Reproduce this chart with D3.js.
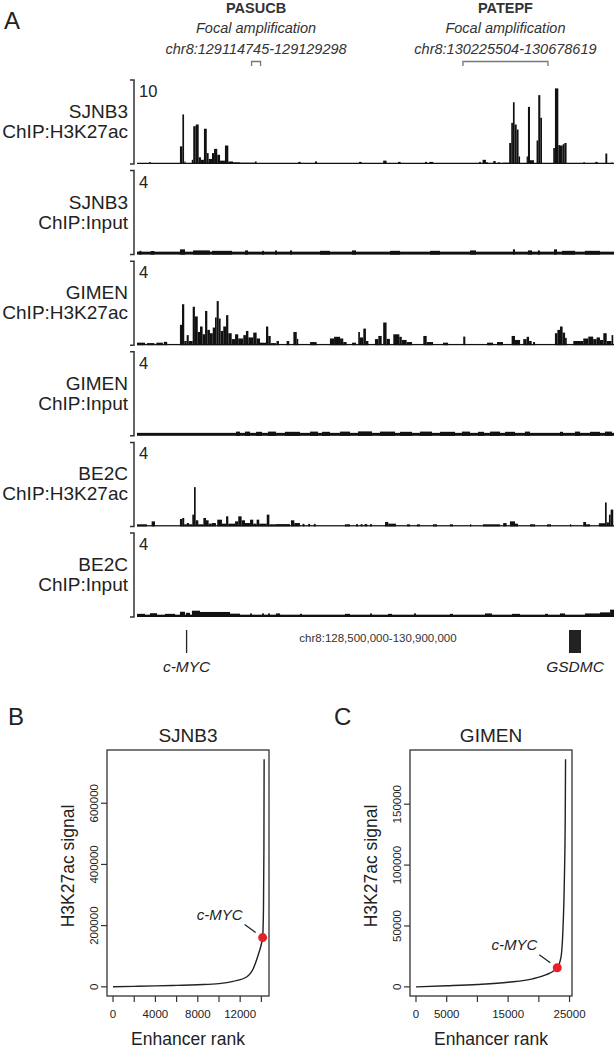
<!DOCTYPE html>
<html>
<head>
<meta charset="utf-8">
<script src="https://cdn.jsdelivr.net/npm/d3@7/dist/d3.min.js"></script>
<style>
body { margin: 0; background: #fff; }
svg text { font-family: "Liberation Sans", Arial, Helvetica, sans-serif; fill: #222; }
</style>
</head>
<body>
<svg id="fig" width="616" height="1050"></svg>
<script>
// ========== panel A data ==========
var region = [128.487, 131.031];   // Mb shown across the tracks
var regionLabel = "chr8:128,500,000-130,900,000";

var trackCell = ["SJNB3", "SJNB3", "GIMEN", "GIMEN", "BE2C", "BE2C"];
var trackChip = ["ChIP:H3K27ac", "ChIP:Input", "ChIP:H3K27ac", "ChIP:Input", "ChIP:H3K27ac", "ChIP:Input"];
var trackMax  = [10, 4, 4, 4, 4, 4];
var trackBg   = [0.15, 0.14, 0.06, 0.14, 0.06, 0.11];

// peaks: [start Mb, end Mb, signal]
var sjnb3K27 = [
  [128.551,128.562,0.2],[128.716,128.729,2.1],[128.729,128.738,5.9],[128.740,128.746,0.3],
  [128.779,128.787,0.5],[128.787,128.800,4.5],[128.800,128.816,4.7],[128.816,128.828,0.8],
  [128.828,128.844,0.5],[128.844,128.859,4.2],[128.859,128.869,1.3],[128.869,128.887,0.6],
  [128.887,128.898,1.3],[128.898,128.915,1.8],[128.915,128.930,1.1],[128.930,128.956,0.4],
  [128.956,128.974,2.2],[128.974,128.999,0.3],[128.999,129.036,0.2],[129.036,129.116,0.15],
  [129.116,129.125,0.3],[129.347,129.360,0.25],[129.436,129.447,0.3],[129.671,129.685,0.25],
  [129.800,129.818,0.4],[129.879,129.893,0.25],[130.023,130.034,0.25],[130.046,130.067,0.25],
  [130.312,130.321,0.25],[130.330,130.348,0.5],[130.348,130.359,0.2],[130.387,130.400,0.35],
  [130.412,130.423,0.2],[130.440,130.472,0.15],[130.472,130.483,2.5],[130.483,130.492,4.9],
  [130.492,130.501,7.35],[130.501,130.512,4.7],[130.512,130.522,4.1],[130.522,130.530,0.9],
  [130.565,130.572,0.9],[130.572,130.583,6.8],[130.583,130.604,0.45],[130.618,130.627,2.8],
  [130.627,130.638,8.2],[130.638,130.647,5.5],[130.707,130.716,1.9],[130.716,130.734,9.0],
  [130.734,130.743,2.25],[130.743,130.757,2.2],[130.757,130.766,2.35],[130.766,130.778,2.5],
  [130.867,130.876,0.2],[130.931,130.944,0.25],[130.985,130.995,1.25],[131.018,131.022,0.2]
];
var sjnb3Input = [
  [128.500,128.510,0.18],[128.560,128.580,0.17],[128.716,128.743,0.25],[128.786,128.876,0.2],
  [128.887,128.994,0.18],[129.063,129.079,0.2],[129.154,129.164,0.18],[129.223,129.233,0.2],
  [129.303,129.314,0.2],[129.463,129.516,0.18],[129.634,129.655,0.2],[129.836,129.890,0.18],
  [130.050,130.103,0.18],[130.263,130.295,0.2],[130.492,130.503,0.25],[130.572,130.594,0.2],
  [130.625,130.636,0.2],[130.711,130.727,0.25],[130.754,130.823,0.18],[130.876,130.956,0.18]
];
var gimenK27 = [
  [128.487,128.530,0.12],[128.540,128.580,0.1],[128.590,128.625,0.12],[128.630,128.648,0.16],
  [128.716,128.727,0.97],[128.727,128.739,1.95],[128.739,128.752,0.2],[128.752,128.763,0.48],
  [128.763,128.784,0.2],[128.784,128.796,1.83],[128.796,128.811,1.37],[128.811,128.823,0.63],
  [128.823,128.837,0.89],[128.837,128.850,0.52],[128.850,128.862,1.63],[128.862,128.876,0.73],
  [128.876,128.891,0.57],[128.891,128.903,0.84],[128.903,128.912,1.32],[128.912,128.923,2.1],
  [128.923,128.933,1.27],[128.933,128.947,0.68],[128.947,128.962,0.89],[128.962,128.974,1.43],
  [128.974,128.992,0.57],[128.992,129.010,0.29],[129.010,129.027,0.52],[129.027,129.054,0.32],
  [129.054,129.068,0.48],[129.068,129.081,0.68],[129.081,129.107,0.37],[129.107,129.125,0.6],
  [129.125,129.143,0.32],[129.143,129.175,0.12],[129.175,129.187,0.89],[129.187,129.200,0.44],
  [129.200,129.228,0.1],[129.231,129.244,0.2],[129.285,129.299,0.2],[129.321,129.339,0.63],
  [129.339,129.347,0.3],[129.410,129.445,0.15],[129.516,129.538,0.32],[129.538,129.570,0.4],
  [129.570,129.587,0.32],[129.587,129.605,0.15],[129.634,129.655,0.12],[129.667,129.676,0.63],
  [129.676,129.694,0.37],[129.694,129.708,0.79],[129.708,129.721,0.2],[129.756,129.774,0.29],
  [129.774,129.792,0.44],[129.800,129.818,1.08],[129.818,129.836,0.3],[129.854,129.886,0.52],
  [129.886,129.899,0.4],[129.899,129.925,0.25],[129.925,129.954,0.15],[130.014,130.032,0.44],
  [130.032,130.066,0.15],[130.119,130.146,0.12],[130.227,130.238,0.41],[130.354,130.386,0.12],
  [130.407,130.439,0.15],[130.485,130.503,0.44],[130.503,130.530,0.25],[130.547,130.565,0.29],
  [130.565,130.578,0.4],[130.578,130.592,0.2],[130.599,130.610,0.15],[130.716,130.729,0.57],
  [130.729,130.743,0.73],[130.743,130.757,0.89],[130.757,130.770,0.6],[130.770,130.779,0.35],
  [130.814,130.867,0.2],[130.867,130.894,0.32],[130.894,130.920,0.41],[130.920,130.938,0.29],
  [130.938,130.956,0.37],[130.956,130.974,0.25],[130.974,130.992,0.57],[130.992,131.018,0.2],
  [131.018,131.027,0.48]
];
var gimenInput = [
  [129.015,129.036,0.2],[129.063,129.090,0.2],[129.122,129.154,0.19],[129.186,129.228,0.2],
  [129.276,129.356,0.19],[129.410,129.452,0.2],[129.474,129.516,0.19],[129.570,129.623,0.2],
  [129.666,129.740,0.21],[129.783,129.863,0.2],[129.890,129.954,0.19],[129.996,130.060,0.2],
  [130.103,130.183,0.19],[130.220,130.263,0.2],[130.306,130.338,0.19],[130.370,130.423,0.2],
  [130.450,130.503,0.19],[130.556,130.583,0.2],[130.743,130.759,0.19],[130.823,130.850,0.2],
  [130.903,130.956,0.19],[130.983,131.020,0.2]
];
var be2cK27 = [
  [128.487,128.540,0.1],[128.565,128.583,0.24],[128.716,128.728,0.35],[128.728,128.739,0.4],
  [128.739,128.752,0.1],[128.752,128.764,0.16],[128.764,128.782,0.1],[128.782,128.791,0.56],
  [128.791,128.800,1.87],[128.800,128.814,0.29],[128.814,128.841,0.1],[128.841,128.855,0.4],
  [128.855,128.869,0.29],[128.869,128.885,0.13],[128.885,128.908,0.16],[128.915,128.940,0.32],
  [128.940,128.962,0.13],[128.962,128.974,0.48],[128.974,129.010,0.13],[129.010,129.027,0.24],
  [129.027,129.045,0.48],[129.045,129.063,0.29],[129.063,129.090,0.16],[129.090,129.107,0.32],
  [129.107,129.125,0.13],[129.125,129.139,0.32],[129.139,129.179,0.13],[129.179,129.193,0.56],
  [129.193,129.228,0.1],[129.228,129.303,0.11],[129.308,129.326,0.29],[129.326,129.356,0.16],
  [129.370,129.380,0.12],[129.400,129.410,0.12],[129.430,129.440,0.12],[129.596,129.623,0.1],
  [129.655,129.665,0.11],[129.680,129.690,0.11],[129.700,129.715,0.11],[129.730,129.740,0.11],
  [129.810,129.827,0.21],[129.827,129.868,0.13],[129.927,129.943,0.1],[129.980,129.996,0.1],
  [130.066,130.087,0.1],[130.156,130.172,0.1],[130.263,130.270,0.1],[130.332,130.423,0.1],
  [130.440,130.458,0.16],[130.476,130.503,0.24],[130.503,130.519,0.13],[130.583,130.610,0.1],
  [130.674,130.695,0.1],[130.796,130.803,0.1],[130.867,130.882,0.21],[130.882,130.903,0.1],
  [130.950,130.983,0.15],[130.983,130.992,1.14],[130.992,131.004,0.19],[131.004,131.013,0.56],
  [131.013,131.027,0.8]
];
var be2cInput = [
  [128.487,128.530,0.15],[128.556,128.594,0.18],[128.636,128.690,0.15],[128.716,128.743,0.25],
  [128.748,128.770,0.2],[128.780,128.823,0.3],[128.823,128.983,0.24],[128.983,129.036,0.16],
  [129.090,129.100,0.17],[129.154,129.164,0.17],[129.186,129.196,0.17],[129.228,129.250,0.17],
  [129.356,129.367,0.15],[129.596,129.623,0.15],[129.730,129.740,0.17],[129.826,129.847,0.15],
  [129.964,129.975,0.17],[130.156,130.172,0.15],[130.343,130.380,0.17],[130.487,130.530,0.15],
  [130.663,130.679,0.15],[130.743,130.770,0.17],[130.876,130.956,0.17],[130.956,131.010,0.22],
  [131.010,131.031,0.35]
];
var trackPeaks = [sjnb3K27, sjnb3Input, gimenK27, gimenInput, be2cK27, be2cInput];

// focal amplifications (bp)
var focalNames = ["PASUCB", "PATEPF"];
var focalStart = [129114745, 130225504];
var focalEnd   = [129129298, 130678619];

// genes (Mb)
var geneNames = ["c-MYC", "GSDMC"];
var geneStart = [128.748, 130.791];
var geneEnd   = [128.750, 130.855];

// ========== panel B / C data (enhancer rank curves) ==========
var rankB   = [1, 2000, 4000, 6000, 8000, 10000, 11350, 12600, 13240, 13700, 14000, 14120, 14200, 14240, 14260];
var signalB = [0, 1500, 3000, 4800, 7000, 10500, 18000, 32000, 60000, 104000, 140000, 161000, 260000, 450000, 744000];
var mycB = [14120, 161000];
var xTicksB = [0, 2000, 4000, 6000, 8000, 10000, 12000, 14000];
var xLabelsB = [0, 4000, 8000, 12000];
var yTicksB = [0, 200000, 400000, 600000];

var rankC   = [1, 5000, 10000, 15000, 19000, 21200, 22400, 23000, 23600, 23900, 24150, 24300, 24350];
var signalC = [0, 900, 2000, 3800, 6600, 10000, 13000, 15700, 24000, 44000, 86000, 140000, 187000];
var mycC = [23000, 15700];
var xTicksC = [0, 5000, 10000, 15000, 20000, 25000];
var xLabelsC = [0, 5000, 15000, 25000];
var yTicksC = [0, 50000, 100000, 150000];

var svg = d3.select("#fig");

// ========== panel A ==========
svg.append("text").attr("x", 4).attr("y", 29).attr("font-size", 24).text("A");

var xs = d3.scaleLinear().domain(region).range([137, 614]);

// focal amplification headers
focalNames.forEach(function(name, i) {
  var x0 = xs(focalStart[i] / 1e6), x1 = xs(focalEnd[i] / 1e6);
  var cx = (x0 + x1) / 2;
  if (x1 - x0 < 9) { x0 = cx - 4.5; x1 = cx + 4.5; }
  var g = svg.append("g").attr("text-anchor", "middle");
  g.append("text").attr("x", cx).attr("y", 13).attr("font-size", 14.5)
    .attr("font-weight", "bold").style("fill", "#333").text(name);
  g.append("text").attr("x", cx).attr("y", 33).attr("font-size", 14.5)
    .attr("font-style", "italic").style("fill", "#333").text("Focal amplification");
  g.append("text").attr("x", cx).attr("y", 54).attr("font-size", 14.5)
    .attr("font-style", "italic").style("fill", "#333")
    .text("chr8:" + focalStart[i] + "-" + focalEnd[i]);
  svg.append("path")
    .attr("d", "M" + x0 + ",66V61.5H" + x1 + "V66")
    .attr("fill", "none").attr("stroke", "#777").attr("stroke-width", 1.3);
});

// tracks
trackPeaks.forEach(function(peaks, i) {
  var top = 80 + i * 90.6, bottom = top + 84;
  var ys = d3.scaleLinear().domain([0, trackMax[i]]).range([bottom, top]);
  var g = svg.append("g");

  // scale bracket
  g.append("path")
    .attr("d", "M130," + top + "H134V" + bottom + "H130")
    .attr("fill", "none").attr("stroke", "#333").attr("stroke-width", 1.5);
  g.append("text").attr("x", 139).attr("y", top + 17).attr("font-size", 16.5).text(trackMax[i]);

  // labels
  g.append("text").attr("x", 128).attr("y", top + 38).attr("font-size", 19)
    .attr("text-anchor", "end").text(trackCell[i]);
  g.append("text").attr("x", 128).attr("y", top + 58).attr("font-size", 19)
    .attr("text-anchor", "end").text(trackChip[i]);

  // background level
  g.append("rect")
    .attr("x", xs(region[0])).attr("width", xs(region[1]) - xs(region[0]))
    .attr("y", ys(trackBg[i])).attr("height", bottom - ys(trackBg[i]))
    .attr("fill", "#111");

  g.selectAll("rect.peak")
    .data(peaks)
    .enter()
    .append("rect")
    .attr("class", "peak")
    .attr("x", function(d) { return xs(d[0]); })
    .attr("width", function(d) { return Math.max(xs(d[1]) - xs(d[0]), 1); })
    .attr("y", function(d) { return ys(d[2]); })
    .attr("height", function(d) { return bottom - ys(d[2]); })
    .attr("fill", "#111");
});

// gene annotation
svg.append("text").attr("x", 378).attr("y", 642).attr("font-size", 11.5)
  .attr("text-anchor", "middle").style("fill", "#333").text(regionLabel);

geneNames.forEach(function(name, i) {
  var x0 = xs(geneStart[i]), x1 = xs(geneEnd[i]);
  var w = Math.max(x1 - x0, 1.3);
  svg.append("rect").attr("x", x0).attr("y", 630).attr("width", w).attr("height", 23).attr("fill", "#222");
  svg.append("text").attr("x", x0 + w / 2).attr("y", 672).attr("font-size", 15.5)
    .attr("font-style", "italic").attr("text-anchor", "middle").text(name);
});

// ========== panel B / C ==========
function rankPlot(o) {
  var left = o.left, right = o.left + 162, top = 750, bottom = 996;
  var x = d3.scaleLinear().domain(o.xdom).range([left, right]);
  var y = d3.scaleLinear().domain(o.ydom).range([bottom, top]);
  var g = svg.append("g");

  g.append("text").attr("x", o.letterX).attr("y", 725).attr("font-size", 24).text(o.letter);
  g.append("text").attr("x", (left + right) / 2).attr("y", 742).attr("font-size", 19)
    .attr("text-anchor", "middle").text(o.title);

  g.append("rect").attr("x", left).attr("y", top).attr("width", right - left).attr("height", bottom - top)
    .attr("fill", "none").attr("stroke", "#333").attr("stroke-width", 1.3);

  // x ticks
  g.selectAll("line.xt").data(o.xticks).enter().append("line")
    .attr("x1", function(d) { return x(d); }).attr("x2", function(d) { return x(d); })
    .attr("y1", bottom).attr("y2", bottom + 6)
    .attr("stroke", "#333").attr("stroke-width", 1.2);
  g.selectAll("text.xl").data(o.xlabels).enter().append("text")
    .attr("x", function(d) { return x(d); }).attr("y", bottom + 22)
    .attr("font-size", 11.5).attr("text-anchor", "middle").text(function(d) { return d; });

  // y ticks
  g.selectAll("line.yt").data(o.yticks).enter().append("line")
    .attr("x1", left - 6).attr("x2", left)
    .attr("y1", function(d) { return y(d); }).attr("y2", function(d) { return y(d); })
    .attr("stroke", "#333").attr("stroke-width", 1.2);
  g.selectAll("text.yl").data(o.yticks).enter().append("text")
    .attr("transform", function(d) { return "translate(" + (left - 9) + "," + y(d) + ") rotate(-90)"; })
    .attr("font-size", 11.5).attr("text-anchor", "middle").text(function(d) { return d; });

  g.append("text").attr("x", (left + right) / 2).attr("y", 1045).attr("font-size", 17.5)
    .attr("text-anchor", "middle").text("Enhancer rank");
  g.append("text")
    .attr("transform", "translate(" + (left - 33) + "," + 866 + ") rotate(-90)")
    .attr("font-size", 17.5).attr("text-anchor", "middle").text("H3K27ac signal");

  var line = d3.line()
    .x(function(d) { return x(d[0]); })
    .y(function(d) { return y(d[1]); })
    .curve(d3.curveMonotoneX);
  g.append("path").datum(d3.zip(o.rank, o.signal))
    .attr("d", line).attr("fill", "none").attr("stroke", "#222").attr("stroke-width", 1.4);

  var dx = x(o.myc[0]), dy = y(o.myc[1]);
  g.append("line").attr("x1", dx - 18).attr("y1", dy - 13).attr("x2", dx - 7).attr("y2", dy - 5)
    .attr("stroke", "#222").attr("stroke-width", 1.3);
  g.append("text").attr("x", dx - 20).attr("y", dy - 18).attr("font-size", 15)
    .attr("font-style", "italic").attr("text-anchor", "end").text("c-MYC");
  g.append("circle").attr("cx", dx).attr("cy", dy).attr("r", 4.5).attr("fill", "#e8202a");
}

rankPlot({ letter: "B", letterX: 8, title: "SJNB3", left: 107,
  xdom: [-570, 14720], ydom: [-30000, 774000],
  rank: rankB, signal: signalB, myc: mycB,
  xticks: xTicksB, xlabels: xLabelsB, yticks: yTicksB });

rankPlot({ letter: "C", letterX: 334, title: "GIMEN", left: 410,
  xdom: [-975, 25400], ydom: [-7500, 194500],
  rank: rankC, signal: signalC, myc: mycC,
  xticks: xTicksC, xlabels: xLabelsC, yticks: yTicksC });
</script>
</body>
</html>
